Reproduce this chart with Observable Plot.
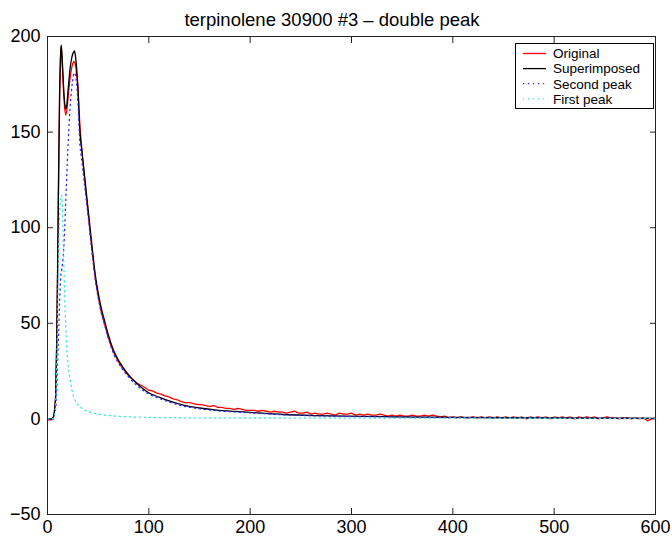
<!DOCTYPE html>
<html><head><meta charset="utf-8">
<script src="https://cdn.jsdelivr.net/npm/d3@7"></script>
<script src="https://cdn.jsdelivr.net/npm/@observablehq/plot@0.6"></script>
<style>
body{margin:0;background:#fff;font-family:"Liberation Sans",Arial,sans-serif;}
#wrap{position:relative;width:672px;height:536px;}
#title{height:30px;box-sizing:border-box;padding-top:9px;padding-right:8px;text-align:center;font-size:18.5px;line-height:normal;color:#000;white-space:nowrap;}
#legend{position:absolute;left:515px;top:43px;width:139px;height:66px;box-sizing:border-box;border:1px solid #000;background:#fff;}
#legend svg{display:block;}
</style></head><body>
<div id="wrap"><div id="title">terpinolene 30900 #3 – double peak</div><div id="chart"></div><div id="legend"></div></div>
<script>
const xTicks = [0, 100, 200, 300, 400, 500, 600];
const yTicks = [-50, 0, 50, 100, 150, 200];
const seriesNames = ["Original", "Superimposed", "Second peak", "First peak"];

// Original (measured) signal
const redHeadT = [0,2,4,5,6,7,8,9,10,11,12,13,13.5,14,15,16,17,18,19,20,21,22,23,24,25,26,27,28,30,32,34,36,38,41,44,47,50,53,56,60,65,72,80,88,95];
const redHeadV = [-0.5,-0.5,-0.5,0,1,4,11,36,78,128,170,190,194,191,181,170,162,159,161,166,172,177,181,184,186,187,186.5,184,174,153,140,129,118,103,88,74,64,56,50,42.5,35,28,22.5,18.8,16.8];
const redTailT = [100,104,108,112,116,120,124,128,132,136,140,144,148,152,156,160,164,168,172,176,180,184,188,192,196,200,204,208,212,216,220,224,228,232,236,240,244,248,252,256,260,264,268,272,276,280,284,288,292,296,300,304,308,312,316,320,324,328,332,336,340,344,348,352,356,360,364,368,372,376,380,384,388,392,396,400,404,408,412,416,420,424,428,432,436,440,444,448,452,456,460,464,468,472,476,480,484,488,492,496,500,504,508,512,516,520,524,528,532,536,540,544,548,552,556,560,564,568,572,576,580,584,588,592,596,600];
const redTailV = [15,14.5,13.5,13,12,11.5,10.5,10,9,8.5,
  8.5,8,7.5,7.5,7,6.5,7,6,6,5.5,
  5.5,5,5.5,5,4.5,4.5,4.5,4,4.5,4,
  3.5,4,3.5,3.5,3,3.5,4,3,3,3.5,
  2.5,3,2.5,2.5,3,2.5,2,3,2.5,2.5,
  3,2,2.5,2,2.5,2,2,2.5,2,1.5,
  2,1.5,2,1.5,1.5,2,1.5,1.5,2,1.5,
  2,1.5,1,1.5,0.5,1,0.5,1,0.5,0.5,
  1,0.5,1,0.5,1,0.5,1,0.5,1,0.5,
  1,0.5,1,0,1,0.5,1,0.5,1,0,
  1,0.5,1,0.5,1,0,1,0.5,1,0.5,
  1,0,0.5,1,0.5,0.5,0,0.5,0.5,0,
  0.5,0,0.5,-1,0,0.5];

// Superimposed fit
const supT = [0,4,6,7,8,9,10,11,12,13,13.5,14,15,16,17,18,19,20,21,22,23,24,25,26,26.6,27.5,28.5,30,32,34,36,38,41,44,47,50,53,56,60,65,72,80,88,100,110,120,135,150,167,185,200,232,266,295,340,400,450,500,550,600];
const supV = [0,0,1.5,5,12,38,80,130,172,192,195.5,193,183,172,165,162,164,170,176,182,186,189,191,192,192.5,190,185,173,150,140,130,120,105,90,76,66,58,52,44,36,29,23,18.6,13.6,11.4,9.4,7.1,5.7,4.6,3.9,3.4,2.3,1.7,1.4,1.1,0.8,0.6,0.5,0.4,0.3];

// Second peak
const secT = [0,6,7,8,9,10,11,12,13,14,15,16,17,18,19,20,21,22,23,24,25,26,27,28,30,32,34,36,38,41,44,47,50,53,56,60,65,72,80,88,100,110,120,135,150,167,185,200,232,266,295,340,400,450,500,550,600];
const secV = [0,0,3,5,13,30,45,62,74,78,82,89,100,114,127,140,151,160.5,167.5,173.5,177.5,180.5,181,178.5,165.5,143.5,134.4,125,115.7,101.4,86.8,73.2,63.5,55.7,50,42.2,34.4,27.6,21.9,17.6,13,10.8,8.8,6.6,5.3,4.3,3.65,3.2,2.2,1.6,1.3,1.05,0.75,0.55,0.45,0.35,0.25];

// First peak
const firT = [0,5,7,8,9,10,11,12,13,14,15,16,17,18,19,20,21,22,23,24,26,28,30,33,36,40,45,50,60,75,100,130,170,250,350,450,600];
const firV = [0,0,2,7,25,50,85,105,115,117,104,84,64,48,37,30,25,21.5,18.5,15.5,11.5,9,7.5,6,4.8,3.8,3,2.5,1.8,1.2,0.8,0.6,0.5,0.45,0.4,0.35,0.3];

const colors = ["#ff0000", "#000000", "#2a2aff", "#33e6e6"];
const dashes = [null, null, "1.2,3.8", "1.2,3.8"];
const widths = [1.3, 1.3, 1.3, 1.3];
const curves = ["linear", "monotone-x", "monotone-x", "monotone-x"];

const rows = (T, V) => T.map((t, i) => ({t, v: V[i]}));
const redData = rows(redHeadT.concat(redTailT), redHeadV.concat(redTailV));
const supData = rows(supT, supV);
const secData = rows(secT, secV);
const firData = rows(firT, firV);
const datasets = [redData, supData, secData, firData];

const font = '"Liberation Sans", Arial, sans-serif';
const tk = 6;
const chart = Plot.plot({
  width: 672, height: 506,
  marginLeft: 47, marginRight: 17, marginTop: 6, marginBottom: 22,
  x: {domain: [0, 600]},
  y: {domain: [-50, 200]},
  style: {fontSize: "18px", fontFamily: font, color: "#000", background: "#fff", overflow: "visible"},
  marks: [
    Plot.axisX(xTicks, {anchor: "bottom", tickSize: 0, tickPadding: 6, label: null, fontSize: 18}),
    Plot.axisX(xTicks, {anchor: "bottom", tickSize: tk, dy: -tk, text: null, label: null, stroke: "#222"}),
    Plot.axisX(xTicks, {anchor: "top", tickSize: tk, dy: tk, text: null, label: null, stroke: "#222"}),
    Plot.axisY(yTicks, {anchor: "left", tickSize: 0, tickPadding: 7, label: null, fontSize: 18}),
    Plot.axisY(yTicks, {anchor: "left", tickSize: tk, dx: tk, text: null, label: null, stroke: "#222"}),
    Plot.axisY(yTicks, {anchor: "right", tickSize: tk, dx: -tk, text: null, label: null, stroke: "#222"}),
    ...datasets.map((d, i) => Plot.line(d, {x: "t", y: "v", stroke: colors[i], strokeWidth: widths[i], strokeDasharray: dashes[i], curve: curves[i]})),
    Plot.frame({stroke: "#222", strokeWidth: 1})
  ]
});
document.getElementById("chart").appendChild(chart);

// Legend
const lg = d3.select("#legend").append("svg").attr("width", 137).attr("height", 64);
seriesNames.forEach((name, i) => {
  const y = 9.5 + 15.1 * i;
  lg.append("line").attr("x1", 7).attr("x2", 30).attr("y1", y).attr("y2", y)
    .attr("stroke", colors[i]).attr("stroke-width", widths[i])
    .attr("stroke-dasharray", dashes[i]);
  lg.append("text").attr("x", 37).attr("y", y).attr("dy", "0.36em")
    .attr("font-family", font).attr("font-size", "13.5px").attr("fill", "#000").text(name);
});
</script>
</body></html>
